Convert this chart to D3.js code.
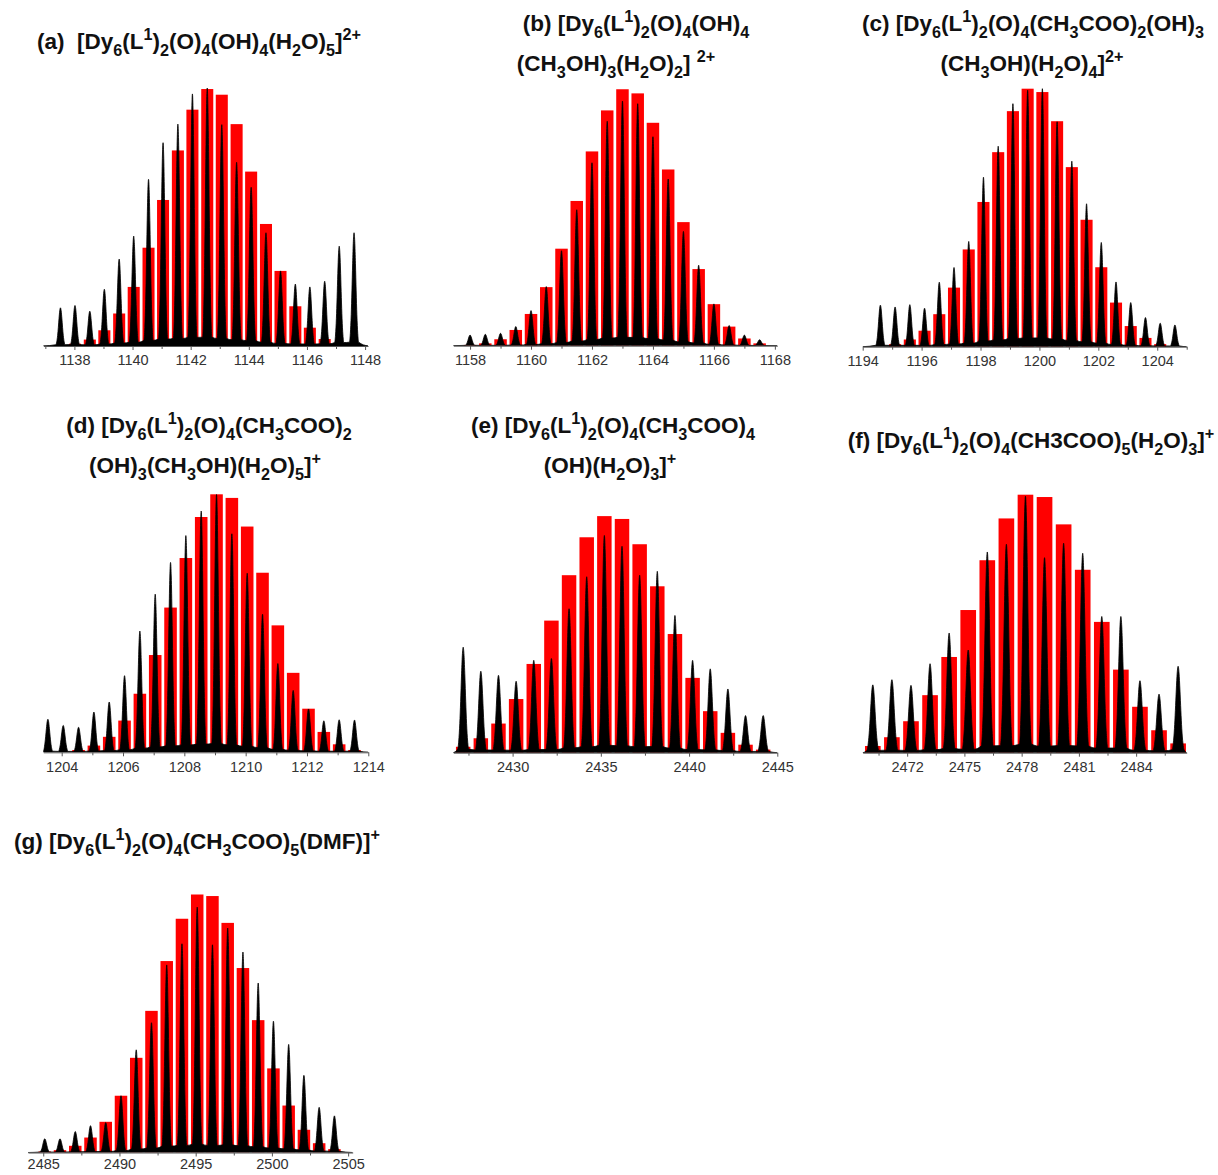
<!DOCTYPE html>
<html>
<head>
<meta charset="utf-8">
<title></title>
<script src="https://d3js.org/d3.v7.min.js"></script>
<style>
body { margin: 0; background: #fff; }
svg { display: block; }
.title { font-family: "Liberation Sans", Arial, sans-serif; font-weight: bold; fill: #111; white-space: pre; }
</style>
</head>
<body>
<svg id="fig" width="1218" height="1175"></svg>
<script>
// m/z of each isotope peak, experimental (black) and simulated (red) intensity in % of max
const mzA = [1137.52, 1138.02, 1138.53, 1139.03, 1139.54, 1140.04, 1140.55, 1141.05, 1141.56, 1142.06, 1142.57, 1143.07, 1143.58, 1144.08, 1144.59, 1145.09, 1145.60, 1146.10, 1146.61, 1147.11, 1147.62];
const expA = [14.8, 15.7, 13.5, 22.0, 33.7, 42.6, 64.6, 78.8, 86.0, 97.7, 100, 85.8, 71.2, 61.5, 43.9, 29.1, 24.0, 22.9, 25.1, 38.7, 43.9];
const simA = [0, 0.9, 2.5, 6.1, 12.6, 22.9, 38.1, 56.6, 75.8, 91.6, 99.6, 97.4, 86.0, 67.6, 47.3, 29.1, 15.4, 7.1, 2.7, 0.6, 0];

const mzB = [1158.0, 1158.5, 1159.0, 1159.5, 1160.0, 1160.5, 1161.0, 1161.5, 1162.0, 1162.5, 1163.0, 1163.5, 1164.0, 1164.5, 1165.0, 1165.5, 1166.0, 1166.5, 1167.0, 1167.5];
const expB = [4.1, 4.4, 4.8, 7.4, 13.6, 22.9, 36.8, 52.7, 70.9, 87.0, 94.8, 93.8, 81.0, 64.6, 44.3, 31.2, 16.2, 7.8, 4.1, 2.3];
const simB = [0.3, 0.9, 2.5, 6.1, 12.3, 22.7, 37.6, 56.1, 75.3, 91.2, 99.4, 97.8, 86.4, 68.3, 47.9, 29.7, 16.1, 7.4, 2.8, 0.9];

const mzC = [1194.6, 1195.1, 1195.6, 1196.1, 1196.6, 1197.1, 1197.6, 1198.1, 1198.6, 1199.1, 1199.6, 1200.1, 1200.6, 1201.1, 1201.6, 1202.1, 1202.6, 1203.1, 1203.6, 1204.1, 1204.6];
const expC = [16.1, 15.4, 16.3, 14.9, 25.0, 30.7, 40.8, 65.7, 77.7, 94.2, 99.4, 100, 87.2, 71.9, 55.4, 40.4, 25.1, 17.1, 11.3, 9.1, 8.4];
const simC = [0, 1.0, 2.8, 6.2, 12.6, 22.9, 37.7, 56.1, 75.4, 91.3, 100, 98.7, 87.4, 69.6, 49.2, 30.8, 17.1, 8.0, 3.4, 1.0, 0];

const mzD = [1203.55, 1204.05, 1204.55, 1205.05, 1205.55, 1206.05, 1206.55, 1207.05, 1207.55, 1208.05, 1208.55, 1209.05, 1209.55, 1210.05, 1210.55, 1211.05, 1211.55, 1212.05, 1212.55, 1213.05, 1213.55];
const expD = [12.8, 10.4, 9.7, 15.6, 19.5, 29.7, 47.0, 61.3, 73.6, 84.0, 93.5, 99.9, 84.7, 69.4, 53.5, 34.4, 24.0, 16.8, 12.2, 12.6, 12.5];
const simD = [0, 0, 0.9, 2.6, 6.0, 12.3, 22.7, 37.7, 56.1, 75.3, 91.2, 100, 98.6, 87.5, 69.6, 49.2, 30.8, 16.9, 7.9, 3.1, 0.9];

const mzE = [2427.2, 2428.2, 2429.2, 2430.2, 2431.2, 2432.2, 2433.2, 2434.2, 2435.2, 2436.2, 2437.2, 2438.2, 2439.2, 2440.2, 2441.2, 2442.2, 2443.2, 2444.2];
const expE = [40.9, 31.6, 30.0, 27.7, 35.8, 36.5, 55.8, 68.2, 84.2, 80.0, 68.8, 70.3, 53.2, 35.8, 32.5, 24.7, 14.4, 14.4];
const simE = [2.3, 5.6, 11.3, 20.8, 34.4, 51.2, 68.8, 83.5, 91.7, 90.6, 80.8, 64.5, 46.0, 29.0, 16.1, 7.7, 3.1, 1.2];

const mzF = [2470.2, 2471.2, 2472.2, 2473.2, 2474.2, 2475.2, 2476.2, 2477.2, 2478.2, 2479.2, 2480.2, 2481.2, 2482.2, 2483.2, 2484.2, 2485.2, 2486.2];
const expF = [26.3, 28.3, 26.1, 34.5, 46.4, 39.8, 77.8, 80.8, 99.4, 75.6, 81.2, 77.3, 52.8, 52.8, 27.9, 22.7, 33.5];
const simF = [2.6, 6.0, 12.2, 22.3, 37.1, 55.3, 74.6, 90.8, 100, 99.1, 88.5, 70.9, 50.7, 32.2, 17.8, 8.7, 3.6];

const mzG = [2485.1, 2486.1, 2487.1, 2488.1, 2489.1, 2490.1, 2491.1, 2492.1, 2493.1, 2494.1, 2495.1, 2496.1, 2497.1, 2498.1, 2499.1, 2500.1, 2501.1, 2502.1, 2503.1, 2504.1];
const expG = [5.3, 5.3, 8.1, 10.4, 11.6, 22.0, 39.8, 50.3, 72.7, 80.9, 95.1, 80.5, 87.0, 77.7, 65.7, 50.9, 41.9, 29.9, 17.5, 14.2];
const simG = [0.4, 0.9, 2.6, 5.8, 11.9, 22.0, 36.7, 54.9, 74.2, 90.6, 100, 99.4, 89.0, 71.5, 51.3, 32.6, 18.2, 8.8, 3.6, 1.3];

// axis ranges and tick labels
const domainA = [1136.93, 1148.1], ticksA = [1138, 1140, 1142, 1144, 1146, 1148], minorA = [1137, 1139, 1141, 1143, 1145, 1147];
const domainB = [1157.45, 1168.08], ticksB = [1158, 1160, 1162, 1164, 1166, 1168], minorB = [1159, 1161, 1163, 1165, 1167];
const domainC = [1194.0, 1205.0], ticksC = [1194, 1196, 1198, 1200, 1202, 1204], minorC = [1195, 1197, 1199, 1201, 1203, 1205];
const domainD = [1203.4, 1214.0], ticksD = [1204, 1206, 1208, 1210, 1212, 1214], minorD = [1205, 1207, 1209, 1211, 1213];
const domainE = [2426.64, 2445.0], ticksE = [2430, 2435, 2440, 2445], minorE = [2427.5, 2432.5, 2437.5, 2442.5];
const domainF = [2469.67, 2486.65], ticksF = [2472, 2475, 2478, 2481, 2484], minorF = [2470.5, 2473.5, 2476.5, 2479.5, 2482.5, 2485.5];
const domainG = [2484.0, 2505.3], ticksG = [2485, 2490, 2495, 2500, 2505], minorG = [2487.5, 2492.5, 2497.5, 2502.5];

// titles: _{..} subscript, ^{..} superscript
const titleA = ["(a)  [Dy_{6}(L^{1})_{2}(O)_{4}(OH)_{4}(H_{2}O)_{5}]^{2+}"];
const titleB = ["(b) [Dy_{6}(L^{1})_{2}(O)_{4}(OH)_{4}", "(CH_{3}OH)_{3}(H_{2}O)_{2}] ^{2+}"];
const titleC = ["(c) [Dy_{6}(L^{1})_{2}(O)_{4}(CH_{3}COO)_{2}(OH)_{3}", "(CH_{3}OH)(H_{2}O)_{4}]^{2+}"];
const titleD = ["(d) [Dy_{6}(L^{1})_{2}(O)_{4}(CH_{3}COO)_{2}", "(OH)_{3}(CH_{3}OH)(H_{2}O)_{5}]^{+}"];
const titleE = ["(e) [Dy_{6}(L^{1})_{2}(O)_{4}(CH_{3}COO)_{4}", "(OH)(H_{2}O)_{3}]^{+}"];
const titleF = ["(f) [Dy_{6}(L^{1})_{2}(O)_{4}(CH3COO)_{5}(H_{2}O)_{3}]^{+}"];
const titleG = ["(g) [Dy_{6}(L^{1})_{2}(O)_{4}(CH_{3}COO)_{5}(DMF)]^{+}"];

const panels = [
    { id: 'a', mz: mzA, exp: expA, sim: simA, domain: domainA, major: ticksA, minor: minorA, title: titleA },
    { id: 'b', mz: mzB, exp: expB, sim: simB, domain: domainB, major: ticksB, minor: minorB, title: titleB },
    { id: 'c', mz: mzC, exp: expC, sim: simC, domain: domainC, major: ticksC, minor: minorC, title: titleC },
    { id: 'd', mz: mzD, exp: expD, sim: simD, domain: domainD, major: ticksD, minor: minorD, title: titleD },
    { id: 'e', mz: mzE, exp: expE, sim: simE, domain: domainE, major: ticksE, minor: minorE, title: titleE },
    { id: 'f', mz: mzF, exp: expF, sim: simF, domain: domainF, major: ticksF, minor: minorF, title: titleF },
    { id: 'g', mz: mzG, exp: expG, sim: simG, domain: domainG, major: ticksG, minor: minorG, title: titleG }
];

// where each panel sits on the page
const layout = {
    a: { x0: 43.3, x1: 368, base: 346, pad: 5, tx: [199], ty: [49] },
    b: { x0: 453.3, x1: 777.3, base: 345.7, pad: 5, tx: [636, 616], ty: [31, 71] },
    c: { x0: 862.7, x1: 1186.7, base: 346.7, pad: 5, tx: [1033, 1032], ty: [31, 71] },
    d: { x0: 43.3, x1: 368.3, base: 752.3, pad: 5, tx: [209, 205], ty: [433, 473] },
    e: { x0: 453.3, x1: 777.3, base: 752.7, pad: 5, tx: [613, 610], ty: [433, 473] },
    f: { x0: 862.7, x1: 1186.7, base: 752.7, pad: 5, tx: [1031], ty: [448] },
    g: { x0: 28, x1: 352.7, base: 1152.5, pad: 2, tx: [197], ty: [849] }
};

const plotH = 258;
const titleSize = 22.5;
const peakShape = [-2.6, -2.1, -1.6, -1.2, -0.8, -0.4, 0, 0.4, 0.8, 1.2, 1.6, 2.1, 2.6];

const svg = d3.select('#fig');

panels.forEach(p => drawPanel(p, layout[p.id]));

function drawPanel(p, L) {
    const x = d3.scaleLinear().domain(p.domain).range([L.x0, L.x1]);
    const y = d3.scaleLinear().domain([0, 100]).range([L.base, L.base - plotH]);
    const step = (p.mz[p.mz.length - 1] - p.mz[0]) / (p.mz.length - 1);
    const barW = step * 0.82;
    const sigma = step * 0.12;

    svg.append('clipPath').attr('id', 'clip-' + p.id)
        .append('rect')
        .attr('x', L.x0).attr('y', L.base - plotH - 10)
        .attr('width', L.x1 - L.x0).attr('height', plotH + 10);

    const g = svg.append('g');
    const plot = g.append('g').attr('clip-path', `url(#clip-${p.id})`);

    const bars = p.mz.map((m, i) => ({ m: m, v: p.sim[i] })).filter(d => d.v > 0);
    plot.selectAll('rect.sim')
        .data(bars)
        .join('rect')
        .attr('class', 'sim')
        .attr('x', d => x(d.m - barW / 2))
        .attr('width', d => x(d.m + barW / 2) - x(d.m - barW / 2))
        .attr('y', d => y(d.v))
        .attr('height', d => y(0) - y(d.v))
        .attr('fill', '#ff0000');

    // experimental trace: one narrow profile per peak, joined along the baseline
    const pts = [[p.domain[0], 0]];
    p.mz.forEach((m, i) => {
        peakShape.forEach(t => pts.push([m + t * sigma, p.exp[i] * Math.exp(-t * t / 2)]));
    });
    pts.push([p.domain[1], 0]);

    plot.append('path')
        .datum(pts)
        .attr('d', d3.area()
            .x(d => x(d[0]))
            .y0(y(0))
            .y1(d => y(d[1]))
            .curve(d3.curveMonotoneX))
        .attr('fill', '#000')
        .attr('stroke', '#000')
        .attr('stroke-width', 0.8);

    const ax = g.append('g')
        .attr('transform', `translate(0,${L.base})`)
        .call(d3.axisBottom(x).tickValues(p.major).tickSize(4).tickSizeOuter(0).tickPadding(L.pad).tickFormat(d3.format('d')))
        .attr('font-size', 14.5)
        .attr('font-family', '"Liberation Sans", Arial, sans-serif');
    ax.select('.domain').attr('stroke', '#555');
    ax.selectAll('.tick line').attr('stroke', '#555');
    ax.selectAll('.tick text').attr('fill', '#333');

    g.append('g')
        .attr('transform', `translate(0,${L.base})`)
        .call(d3.axisBottom(x).tickValues(p.minor).tickSize(3).tickFormat(''))
        .call(a => a.select('.domain').remove())
        .selectAll('.tick line').attr('stroke', '#555');

    drawTitle(p.title, L);
}

function drawTitle(lines, L) {
    lines.forEach((line, i) => {
        const t = svg.append('text')
            .attr('class', 'title')
            .attr('x', L.tx[i])
            .attr('y', L.ty[i])
            .attr('text-anchor', 'middle')
            .attr('font-size', titleSize);
        let shift = 0;
        line.match(/[_^]\{[^}]*\}|[^_^]+/g).forEach(part => {
            let target = 0, size = titleSize, txt = part;
            if (part[0] === '_') { target = titleSize * 0.3; size = titleSize * 0.72; txt = part.slice(2, -1); }
            else if (part[0] === '^') { target = -titleSize * 0.42; size = titleSize * 0.72; txt = part.slice(2, -1); }
            t.append('tspan').attr('dy', target - shift).attr('font-size', size).text(txt);
            shift = target;
        });
    });
}
</script>
</body>
</html>
